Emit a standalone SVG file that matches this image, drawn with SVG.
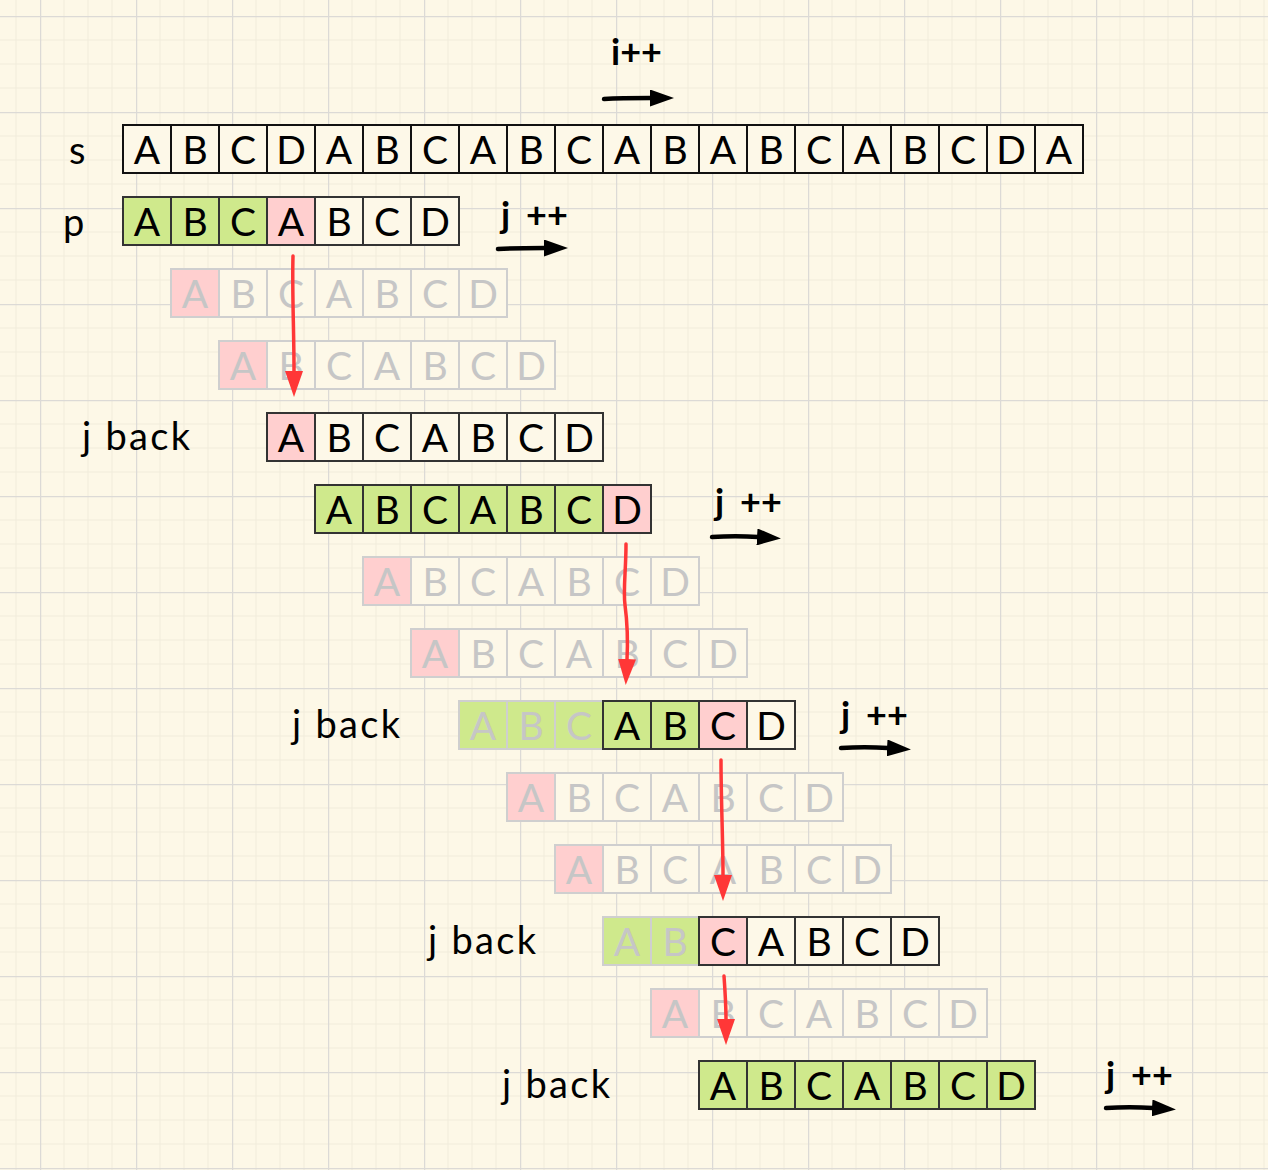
<svg xmlns="http://www.w3.org/2000/svg" width="1268" height="1170" viewBox="0 0 1268 1170">
<defs>
<pattern id="grid" x="40" y="16" width="96" height="96" patternUnits="userSpaceOnUse">
<path d="M24,0V96M48,0V96M72,0V96M0,24H96M0,48H96M0,72H96" stroke="#f1ecdb" stroke-width="1" fill="none"/>
<path d="M0.5,0V96M0,0.5H96" stroke="#dcdad6" stroke-width="1.5" fill="none"/>
</pattern>
<marker id="redHead" viewBox="0 0 26 18" refX="1" refY="9" markerWidth="26" markerHeight="18" markerUnits="userSpaceOnUse" orient="auto">
<path d="M0,0 L26,9 L0,18 z" fill="#ff3737"/>
</marker>
<marker id="blackHead" viewBox="0 0 24 17" refX="1" refY="8.5" markerWidth="24" markerHeight="17" markerUnits="userSpaceOnUse" orient="auto">
<path d="M0,0 L24,8.5 L0,17 z" fill="#000"/>
</marker>
</defs>
<style>
.c{fill:#fdf8e8;stroke:#333;stroke-width:2}
.s{stroke:#111}
.f{stroke:#cfcfcf}
.g{fill:#cfe98c}
.r{fill:#ffcfcf}
.t{font-family:Lato,"Liberation Sans",sans-serif;font-size:39px;text-anchor:middle;fill:#000}
.tf{fill:#c6c6c6}
.lbl{font-family:Lato,"Liberation Sans",sans-serif;font-size:38px;fill:#000}
.inc{font-family:Lato,"Liberation Sans",sans-serif;font-size:36px;font-weight:bold;fill:#000}
.red{fill:none;stroke:#ff3737;stroke-width:3.5;stroke-linecap:round}
.blk{fill:none;stroke:#000;stroke-width:4.5;stroke-linecap:round}
</style>
<rect width="1268" height="1170" fill="#fdf8e7"/>
<rect width="1268" height="1170" fill="url(#grid)"/>

<g id="labels">
<text class="lbl" x="69" y="164">s</text>
<text class="lbl" x="63" y="236">p</text>
<text class="lbl" x="82" y="450" textLength="108" lengthAdjust="spacing">j back</text>
<text class="lbl" x="292" y="738" textLength="108" lengthAdjust="spacing">j back</text>
<text class="lbl" x="428" y="954" textLength="108" lengthAdjust="spacing">j back</text>
<text class="lbl" x="502" y="1098" textLength="108" lengthAdjust="spacing">j back</text>
<text class="inc" x="611" y="65">i++</text>
<text class="inc" x="501" y="228">j <tspan x="526">++</tspan></text>
<text class="inc" x="715" y="515">j <tspan x="740">++</tspan></text>
<text class="inc" x="841" y="728">j <tspan x="866">++</tspan></text>
<text class="inc" x="1106" y="1088">j <tspan x="1131">++</tspan></text>
</g>

<g id="row-s" transform="translate(123,125)">
<rect class="c s" x="0" y="0" width="48" height="48"/><rect class="c s" x="48" y="0" width="48" height="48"/><rect class="c s" x="96" y="0" width="48" height="48"/><rect class="c s" x="144" y="0" width="48" height="48"/><rect class="c s" x="192" y="0" width="48" height="48"/><rect class="c s" x="240" y="0" width="48" height="48"/><rect class="c s" x="288" y="0" width="48" height="48"/><rect class="c s" x="336" y="0" width="48" height="48"/><rect class="c s" x="384" y="0" width="48" height="48"/><rect class="c s" x="432" y="0" width="48" height="48"/><rect class="c s" x="480" y="0" width="48" height="48"/><rect class="c s" x="528" y="0" width="48" height="48"/><rect class="c s" x="576" y="0" width="48" height="48"/><rect class="c s" x="624" y="0" width="48" height="48"/><rect class="c s" x="672" y="0" width="48" height="48"/><rect class="c s" x="720" y="0" width="48" height="48"/><rect class="c s" x="768" y="0" width="48" height="48"/><rect class="c s" x="816" y="0" width="48" height="48"/><rect class="c s" x="864" y="0" width="48" height="48"/><rect class="c s" x="912" y="0" width="48" height="48"/>
<text class="t" x="24" y="39">A</text><text class="t" x="72" y="39">B</text><text class="t" x="120" y="39">C</text><text class="t" x="168" y="39">D</text><text class="t" x="216" y="39">A</text><text class="t" x="264" y="39">B</text><text class="t" x="312" y="39">C</text><text class="t" x="360" y="39">A</text><text class="t" x="408" y="39">B</text><text class="t" x="456" y="39">C</text><text class="t" x="504" y="39">A</text><text class="t" x="552" y="39">B</text><text class="t" x="600" y="39">A</text><text class="t" x="648" y="39">B</text><text class="t" x="696" y="39">C</text><text class="t" x="744" y="39">A</text><text class="t" x="792" y="39">B</text><text class="t" x="840" y="39">C</text><text class="t" x="888" y="39">D</text><text class="t" x="936" y="39">A</text>
</g>

<g id="row-p" transform="translate(123,197)">
<rect class="c g" x="0" y="0" width="48" height="48"/><rect class="c g" x="48" y="0" width="48" height="48"/><rect class="c g" x="96" y="0" width="48" height="48"/><rect class="c r" x="144" y="0" width="48" height="48"/><rect class="c" x="192" y="0" width="48" height="48"/><rect class="c" x="240" y="0" width="48" height="48"/><rect class="c" x="288" y="0" width="48" height="48"/>
<text class="t" x="24" y="39">A</text><text class="t" x="72" y="39">B</text><text class="t" x="120" y="39">C</text><text class="t" x="168" y="39">A</text><text class="t" x="216" y="39">B</text><text class="t" x="264" y="39">C</text><text class="t" x="312" y="39">D</text>
</g>

<g id="row-2" transform="translate(171,269)">
<rect class="c f r" x="0" y="0" width="48" height="48"/><rect class="c f" x="48" y="0" width="48" height="48"/><rect class="c f" x="96" y="0" width="48" height="48"/><rect class="c f" x="144" y="0" width="48" height="48"/><rect class="c f" x="192" y="0" width="48" height="48"/><rect class="c f" x="240" y="0" width="48" height="48"/><rect class="c f" x="288" y="0" width="48" height="48"/>
<text class="t tf" x="24" y="39">A</text><text class="t tf" x="72" y="39">B</text><text class="t tf" x="120" y="39">C</text><text class="t tf" x="168" y="39">A</text><text class="t tf" x="216" y="39">B</text><text class="t tf" x="264" y="39">C</text><text class="t tf" x="312" y="39">D</text>
</g>

<g id="row-3" transform="translate(219,341)">
<rect class="c f r" x="0" y="0" width="48" height="48"/><rect class="c f" x="48" y="0" width="48" height="48"/><rect class="c f" x="96" y="0" width="48" height="48"/><rect class="c f" x="144" y="0" width="48" height="48"/><rect class="c f" x="192" y="0" width="48" height="48"/><rect class="c f" x="240" y="0" width="48" height="48"/><rect class="c f" x="288" y="0" width="48" height="48"/>
<text class="t tf" x="24" y="39">A</text><text class="t tf" x="72" y="39">B</text><text class="t tf" x="120" y="39">C</text><text class="t tf" x="168" y="39">A</text><text class="t tf" x="216" y="39">B</text><text class="t tf" x="264" y="39">C</text><text class="t tf" x="312" y="39">D</text>
</g>

<g id="row-4" transform="translate(267,413)">
<rect class="c r" x="0" y="0" width="48" height="48"/><rect class="c" x="48" y="0" width="48" height="48"/><rect class="c" x="96" y="0" width="48" height="48"/><rect class="c" x="144" y="0" width="48" height="48"/><rect class="c" x="192" y="0" width="48" height="48"/><rect class="c" x="240" y="0" width="48" height="48"/><rect class="c" x="288" y="0" width="48" height="48"/>
<text class="t" x="24" y="39">A</text><text class="t" x="72" y="39">B</text><text class="t" x="120" y="39">C</text><text class="t" x="168" y="39">A</text><text class="t" x="216" y="39">B</text><text class="t" x="264" y="39">C</text><text class="t" x="312" y="39">D</text>
</g>

<g id="row-5" transform="translate(315,485)">
<rect class="c g" x="0" y="0" width="48" height="48"/><rect class="c g" x="48" y="0" width="48" height="48"/><rect class="c g" x="96" y="0" width="48" height="48"/><rect class="c g" x="144" y="0" width="48" height="48"/><rect class="c g" x="192" y="0" width="48" height="48"/><rect class="c g" x="240" y="0" width="48" height="48"/><rect class="c r" x="288" y="0" width="48" height="48"/>
<text class="t" x="24" y="39">A</text><text class="t" x="72" y="39">B</text><text class="t" x="120" y="39">C</text><text class="t" x="168" y="39">A</text><text class="t" x="216" y="39">B</text><text class="t" x="264" y="39">C</text><text class="t" x="312" y="39">D</text>
</g>

<g id="row-6" transform="translate(363,557)">
<rect class="c f r" x="0" y="0" width="48" height="48"/><rect class="c f" x="48" y="0" width="48" height="48"/><rect class="c f" x="96" y="0" width="48" height="48"/><rect class="c f" x="144" y="0" width="48" height="48"/><rect class="c f" x="192" y="0" width="48" height="48"/><rect class="c f" x="240" y="0" width="48" height="48"/><rect class="c f" x="288" y="0" width="48" height="48"/>
<text class="t tf" x="24" y="39">A</text><text class="t tf" x="72" y="39">B</text><text class="t tf" x="120" y="39">C</text><text class="t tf" x="168" y="39">A</text><text class="t tf" x="216" y="39">B</text><text class="t tf" x="264" y="39">C</text><text class="t tf" x="312" y="39">D</text>
</g>

<g id="row-7" transform="translate(411,629)">
<rect class="c f r" x="0" y="0" width="48" height="48"/><rect class="c f" x="48" y="0" width="48" height="48"/><rect class="c f" x="96" y="0" width="48" height="48"/><rect class="c f" x="144" y="0" width="48" height="48"/><rect class="c f" x="192" y="0" width="48" height="48"/><rect class="c f" x="240" y="0" width="48" height="48"/><rect class="c f" x="288" y="0" width="48" height="48"/>
<text class="t tf" x="24" y="39">A</text><text class="t tf" x="72" y="39">B</text><text class="t tf" x="120" y="39">C</text><text class="t tf" x="168" y="39">A</text><text class="t tf" x="216" y="39">B</text><text class="t tf" x="264" y="39">C</text><text class="t tf" x="312" y="39">D</text>
</g>

<g id="row-8" transform="translate(459,701)">
<rect class="c f g" x="0" y="0" width="48" height="48"/><rect class="c f g" x="48" y="0" width="48" height="48"/><rect class="c f g" x="96" y="0" width="48" height="48"/><rect class="c g" x="144" y="0" width="48" height="48"/><rect class="c g" x="192" y="0" width="48" height="48"/><rect class="c r" x="240" y="0" width="48" height="48"/><rect class="c" x="288" y="0" width="48" height="48"/>
<text class="t tf" x="24" y="39">A</text><text class="t tf" x="72" y="39">B</text><text class="t tf" x="120" y="39">C</text><text class="t" x="168" y="39">A</text><text class="t" x="216" y="39">B</text><text class="t" x="264" y="39">C</text><text class="t" x="312" y="39">D</text>
</g>

<g id="row-9" transform="translate(507,773)">
<rect class="c f r" x="0" y="0" width="48" height="48"/><rect class="c f" x="48" y="0" width="48" height="48"/><rect class="c f" x="96" y="0" width="48" height="48"/><rect class="c f" x="144" y="0" width="48" height="48"/><rect class="c f" x="192" y="0" width="48" height="48"/><rect class="c f" x="240" y="0" width="48" height="48"/><rect class="c f" x="288" y="0" width="48" height="48"/>
<text class="t tf" x="24" y="39">A</text><text class="t tf" x="72" y="39">B</text><text class="t tf" x="120" y="39">C</text><text class="t tf" x="168" y="39">A</text><text class="t tf" x="216" y="39">B</text><text class="t tf" x="264" y="39">C</text><text class="t tf" x="312" y="39">D</text>
</g>

<g id="row-10" transform="translate(555,845)">
<rect class="c f r" x="0" y="0" width="48" height="48"/><rect class="c f" x="48" y="0" width="48" height="48"/><rect class="c f" x="96" y="0" width="48" height="48"/><rect class="c f" x="144" y="0" width="48" height="48"/><rect class="c f" x="192" y="0" width="48" height="48"/><rect class="c f" x="240" y="0" width="48" height="48"/><rect class="c f" x="288" y="0" width="48" height="48"/>
<text class="t tf" x="24" y="39">A</text><text class="t tf" x="72" y="39">B</text><text class="t tf" x="120" y="39">C</text><text class="t tf" x="168" y="39">A</text><text class="t tf" x="216" y="39">B</text><text class="t tf" x="264" y="39">C</text><text class="t tf" x="312" y="39">D</text>
</g>

<g id="row-11" transform="translate(603,917)">
<rect class="c f g" x="0" y="0" width="48" height="48"/><rect class="c f g" x="48" y="0" width="48" height="48"/><rect class="c r" x="96" y="0" width="48" height="48"/><rect class="c" x="144" y="0" width="48" height="48"/><rect class="c" x="192" y="0" width="48" height="48"/><rect class="c" x="240" y="0" width="48" height="48"/><rect class="c" x="288" y="0" width="48" height="48"/>
<text class="t tf" x="24" y="39">A</text><text class="t tf" x="72" y="39">B</text><text class="t" x="120" y="39">C</text><text class="t" x="168" y="39">A</text><text class="t" x="216" y="39">B</text><text class="t" x="264" y="39">C</text><text class="t" x="312" y="39">D</text>
</g>

<g id="row-12" transform="translate(651,989)">
<rect class="c f r" x="0" y="0" width="48" height="48"/><rect class="c f" x="48" y="0" width="48" height="48"/><rect class="c f" x="96" y="0" width="48" height="48"/><rect class="c f" x="144" y="0" width="48" height="48"/><rect class="c f" x="192" y="0" width="48" height="48"/><rect class="c f" x="240" y="0" width="48" height="48"/><rect class="c f" x="288" y="0" width="48" height="48"/>
<text class="t tf" x="24" y="39">A</text><text class="t tf" x="72" y="39">B</text><text class="t tf" x="120" y="39">C</text><text class="t tf" x="168" y="39">A</text><text class="t tf" x="216" y="39">B</text><text class="t tf" x="264" y="39">C</text><text class="t tf" x="312" y="39">D</text>
</g>

<g id="row-13" transform="translate(699,1061)">
<rect class="c g" x="0" y="0" width="48" height="48"/><rect class="c g" x="48" y="0" width="48" height="48"/><rect class="c g" x="96" y="0" width="48" height="48"/><rect class="c g" x="144" y="0" width="48" height="48"/><rect class="c g" x="192" y="0" width="48" height="48"/><rect class="c g" x="240" y="0" width="48" height="48"/><rect class="c g" x="288" y="0" width="48" height="48"/>
<text class="t" x="24" y="39">A</text><text class="t" x="72" y="39">B</text><text class="t" x="120" y="39">C</text><text class="t" x="168" y="39">A</text><text class="t" x="216" y="39">B</text><text class="t" x="264" y="39">C</text><text class="t" x="312" y="39">D</text>
</g>

<g id="connectors">
<path class="red" d="M293,256 C292,290 294,330 294,372" marker-end="url(#redHead)"/>
<path class="red" d="M626,544 C626,570 623,590 625,605 S628,640 627,660" marker-end="url(#redHead)"/>
<path class="red" d="M721,760 C721,800 723,840 723,876" marker-end="url(#redHead)"/>
<path class="red" d="M724,976 C725,990 726,1005 726,1020" marker-end="url(#redHead)"/>
<path class="blk" d="M604,99 C620,98 635,98 651,98" marker-end="url(#blackHead)"/>
<path class="blk" d="M498,249 C514,248 530,248 545,248" marker-end="url(#blackHead)"/>
<path class="blk" d="M712,537 C728,536 743,536 758,537" marker-end="url(#blackHead)"/>
<path class="blk" d="M841,748 C857,747 872,747 888,748" marker-end="url(#blackHead)"/>
<path class="blk" d="M1106,1108 C1122,1107 1137,1107 1153,1108" marker-end="url(#blackHead)"/>
</g>
</svg>
